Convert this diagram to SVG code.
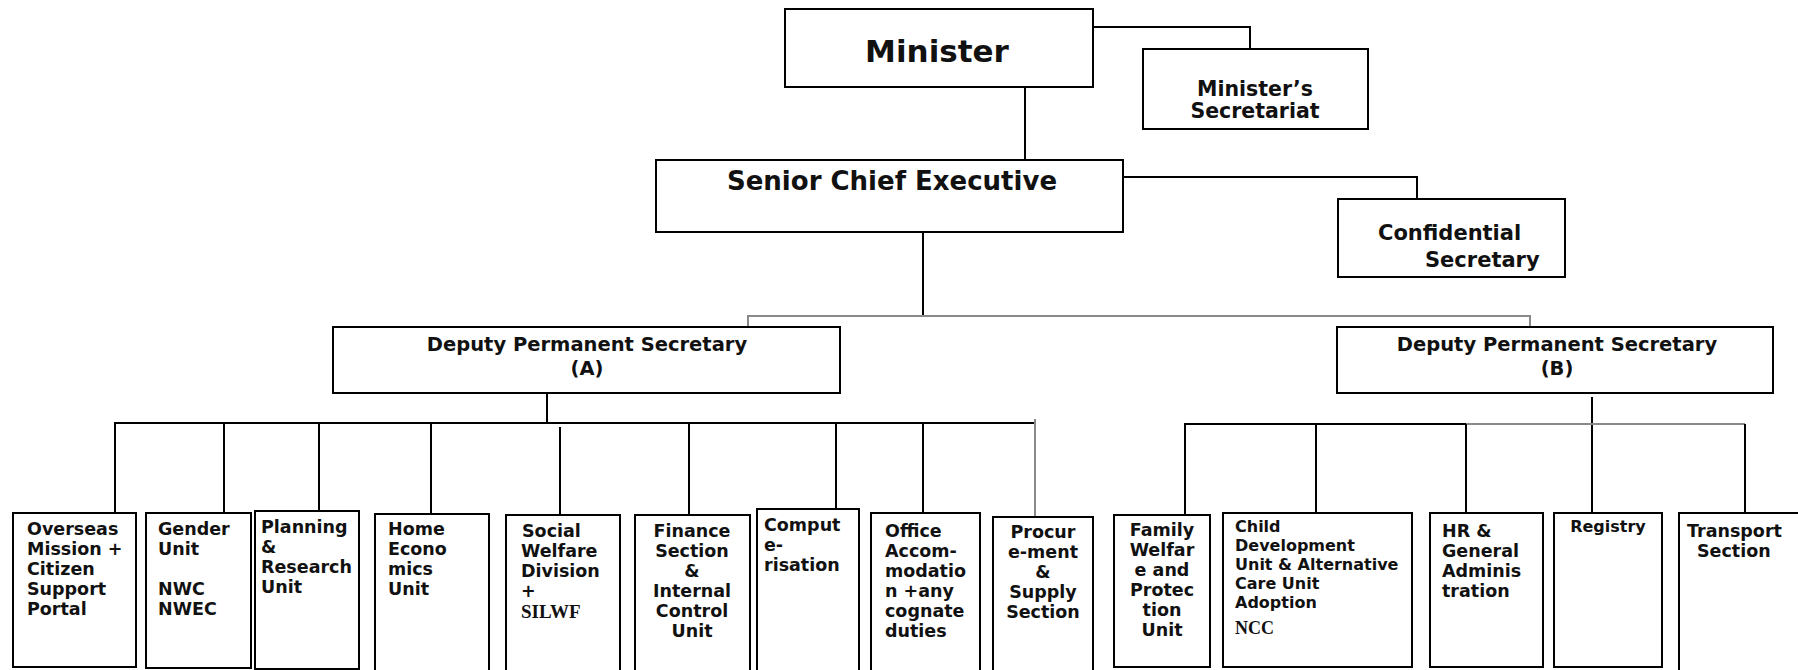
<svg xmlns="http://www.w3.org/2000/svg" width="1798" height="670" viewBox="0 0 1798 670">
<style>
.box{fill:#fff;stroke:#000;stroke-width:2}
.t{font-family:"DejaVu Sans",Verdana,sans-serif;font-weight:bold;fill:#111}
.s{font-family:"Liberation Serif","Times New Roman",serif;font-weight:bold;fill:#111}
.c{text-anchor:middle}
.b{font-size:17.5px}
.ln{stroke:#000;stroke-width:2;fill:none}
.gy{stroke:#8a8a8a;stroke-width:2;fill:none}
</style>
<rect width="1798" height="670" fill="#fff"/>
<g id="connectors">
<path class="ln" d="M1093,27 H1250 V49"/>
<path class="ln" d="M1025,87 V160"/>
<path class="ln" d="M1123,177 H1417 V199"/>
<path class="ln" d="M923,232 V316"/>
<path class="gy" d="M748,327 V316 H1530 V327"/>
<path class="ln" d="M547,393 V423"/>
<path class="ln" d="M115,513 V423 H1035"/>
<path class="ln" d="M224,423 V513 M319,423 V511 M431,423 V514 M560,427 V515 M689,423 V515 M836,423 V509 M923,423 V513"/>
<path class="gy" d="M1035,419 V517"/>
<path class="ln" d="M1592,397 V513"/>
<path class="ln" d="M1185,515 V424 H1466"/>
<path class="gy" d="M1466,424 H1745"/>
<path class="ln" d="M1316,423 V513 M1466,424 V513 M1745,424 V513"/>
</g>
<g id="minister">
<rect class="box" x="785" y="9" width="308" height="78"/>
<text class="t c" x="937" y="62" font-size="31">Minister</text>
</g>
<g id="ministers-secretariat">
<rect class="box" x="1143" y="49" width="225" height="80"/>
<text class="t c" x="1255" y="96" font-size="20.5">Minister’s</text>
<text class="t c" x="1255" y="118" font-size="20.5">Secretariat</text>
</g>
<g id="senior-chief-executive">
<rect class="box" x="656" y="160" width="467" height="72"/>
<text class="t c" x="892" y="190" font-size="26">Senior Chief Executive</text>
</g>
<g id="confidential-secretary">
<rect class="box" x="1338" y="199" width="227" height="78"/>
<text class="t" x="1378" y="240" font-size="21">Confidential</text>
<text class="t" x="1425" y="267" font-size="21">Secretary</text>
</g>
<g id="dps-a">
<rect class="box" x="333" y="327" width="507" height="66"/>
<text class="t c" x="587" y="351" font-size="19.5">Deputy Permanent Secretary</text>
<text class="t c" x="587" y="375" font-size="19.5">(A)</text>
</g>
<g id="dps-b">
<rect class="box" x="1337" y="327" width="436" height="66"/>
<text class="t c" x="1557" y="351" font-size="19.5">Deputy Permanent Secretary</text>
<text class="t c" x="1557" y="375" font-size="19.5">(B)</text>
</g>
<g id="overseas">
<rect class="box" x="13" y="513" width="123" height="154"/>
<text class="t b" x="27" y="535">Overseas</text>
<text class="t b" x="27" y="555">Mission +</text>
<text class="t b" x="27" y="575">Citizen</text>
<text class="t b" x="27" y="595">Support</text>
<text class="t b" x="27" y="615">Portal</text>
</g>
<g id="gender">
<rect class="box" x="146" y="513" width="105" height="155"/>
<text class="t b" x="158" y="535">Gender</text>
<text class="t b" x="158" y="555">Unit</text>
<text class="t b" x="158" y="595">NWC</text>
<text class="t b" x="158" y="615">NWEC</text>
</g>
<g id="planning">
<rect class="box" x="255" y="511" width="104" height="158"/>
<text class="t b" x="261" y="533">Planning</text>
<text class="t b" x="261" y="553">&amp;</text>
<text class="t b" x="261" y="573">Research</text>
<text class="t b" x="261" y="593">Unit</text>
</g>
<g id="home-economics">
<rect class="box" x="375" y="514" width="114" height="170"/>
<text class="t b" x="388" y="535">Home</text>
<text class="t b" x="388" y="555">Econo</text>
<text class="t b" x="388" y="575">mics</text>
<text class="t b" x="388" y="595">Unit</text>
</g>
<g id="social-welfare">
<rect class="box" x="506" y="515" width="114" height="170"/>
<text class="t b" x="522" y="537">Social</text>
<text class="t b" x="521" y="557">Welfare</text>
<text class="t b" x="521" y="577">Division</text>
<text class="t b" x="521" y="597">+</text>
<text class="s" x="521" y="618" font-size="19">SILWF</text>
</g>
<g id="finance">
<rect class="box" x="635" y="515" width="115" height="170"/>
<text class="t b c" x="692" y="537">Finance</text>
<text class="t b c" x="692" y="557">Section</text>
<text class="t b c" x="692" y="577">&amp;</text>
<text class="t b c" x="692" y="597">Internal</text>
<text class="t b c" x="692" y="617">Control</text>
<text class="t b c" x="692" y="637">Unit</text>
</g>
<g id="computerisation">
<rect class="box" x="757" y="509" width="102" height="175"/>
<text class="t b" x="764" y="531">Comput</text>
<text class="t b" x="764" y="551">e-</text>
<text class="t b" x="764" y="571">risation</text>
</g>
<g id="office-accommodation">
<rect class="box" x="871" y="513" width="109" height="170"/>
<text class="t b" x="885" y="537">Office</text>
<text class="t b" x="885" y="557">Accom-</text>
<text class="t b" x="885" y="577">modatio</text>
<text class="t b" x="885" y="597">n +any</text>
<text class="t b" x="885" y="617">cognate</text>
<text class="t b" x="885" y="637">duties</text>
</g>
<g id="procurement">
<rect class="box" x="993" y="517" width="100" height="170"/>
<text class="t b c" x="1043" y="538">Procur</text>
<text class="t b c" x="1043" y="558">e-ment</text>
<text class="t b c" x="1043" y="578">&amp;</text>
<text class="t b c" x="1043" y="598">Supply</text>
<text class="t b c" x="1043" y="618">Section</text>
</g>
<g id="family-welfare">
<rect class="box" x="1114" y="515" width="96" height="152"/>
<text class="t b c" x="1162" y="536">Family</text>
<text class="t b c" x="1162" y="556">Welfar</text>
<text class="t b c" x="1162" y="576">e and</text>
<text class="t b c" x="1162" y="596">Protec</text>
<text class="t b c" x="1162" y="616">tion</text>
<text class="t b c" x="1162" y="636">Unit</text>
</g>
<g id="child-development">
<rect class="box" x="1223" y="513" width="189" height="154"/>
<text class="t" x="1235" y="532" font-size="16">Child</text>
<text class="t" x="1235" y="551" font-size="16">Development</text>
<text class="t" x="1235" y="570" font-size="16">Unit &amp; Alternative</text>
<text class="t" x="1235" y="589" font-size="16">Care Unit</text>
<text class="t" x="1235" y="608" font-size="16">Adoption</text>
<text class="s" x="1235" y="634" font-size="18">NCC</text>
</g>
<g id="hr">
<rect class="box" x="1430" y="513" width="113" height="154"/>
<text class="t b" x="1442" y="537">HR &amp;</text>
<text class="t b" x="1442" y="557">General</text>
<text class="t b" x="1442" y="577">Adminis</text>
<text class="t b" x="1442" y="597">tration</text>
</g>
<g id="registry">
<rect class="box" x="1554" y="513" width="108" height="154"/>
<text class="t c" x="1608" y="532" font-size="16">Registry</text>
</g>
<g id="transport">
<path class="ln" d="M1679,680 V513 H1805"/>
<text class="t b" x="1687" y="537">Transport</text>
<text class="t b" x="1697" y="557">Section</text>
</g>
</svg>
